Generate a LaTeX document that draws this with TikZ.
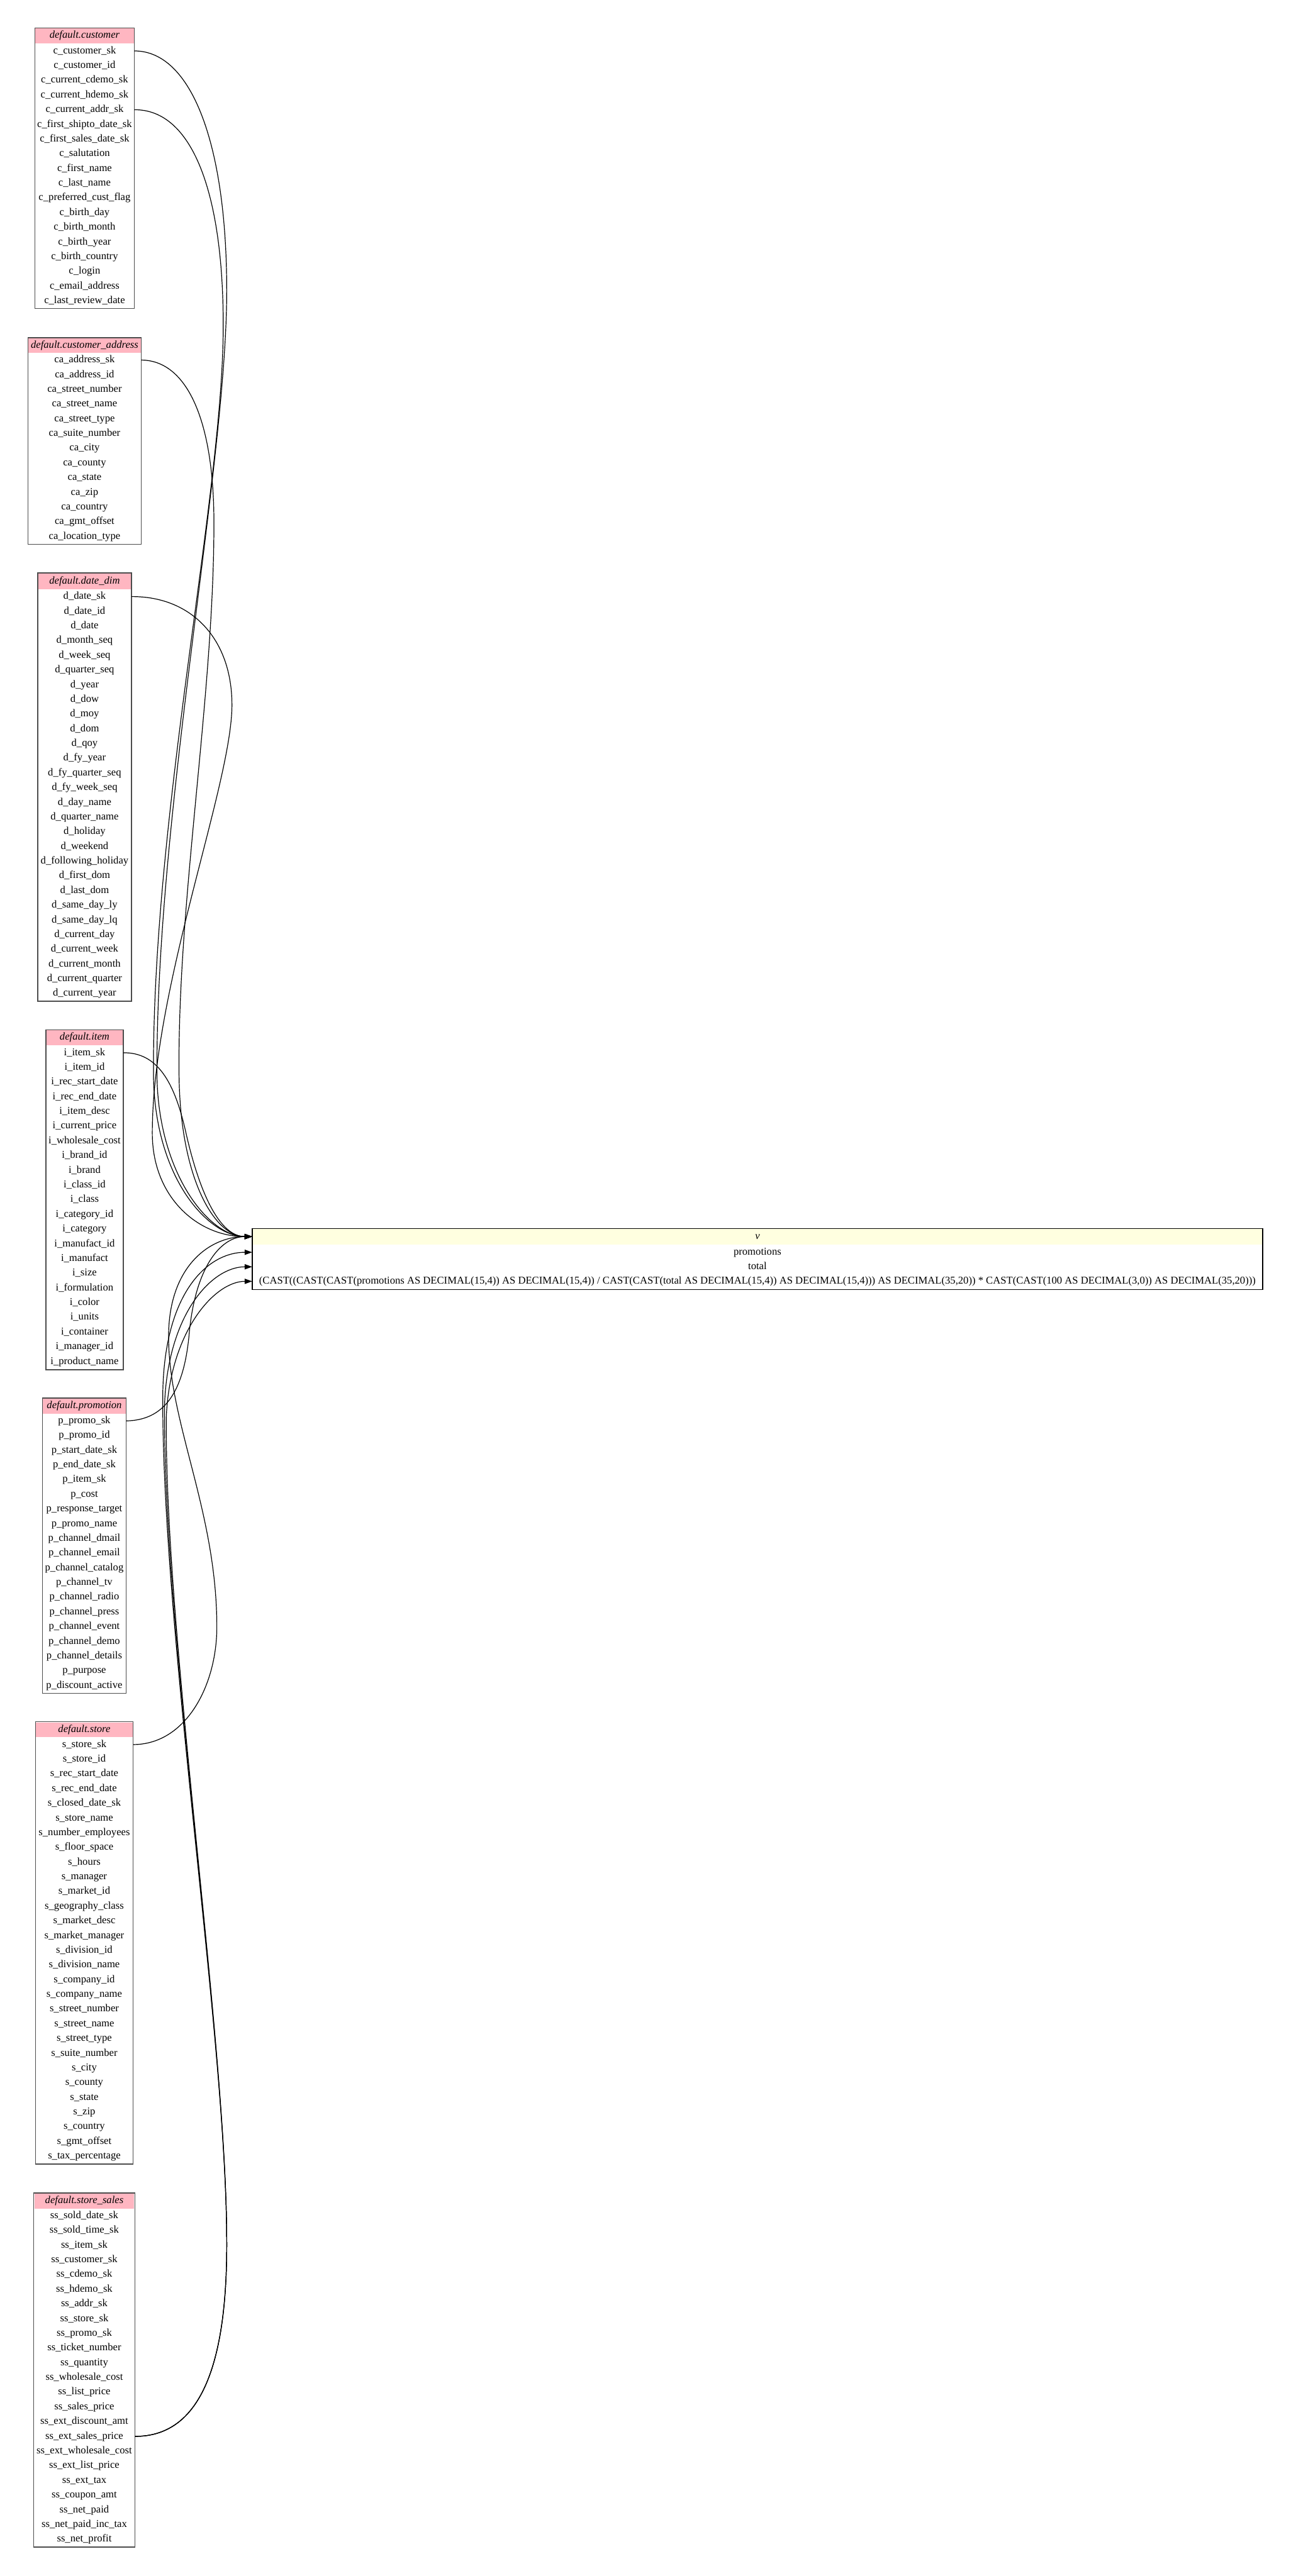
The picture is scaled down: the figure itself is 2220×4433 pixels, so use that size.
\documentclass[tikz,border=0pt]{standalone}
\usepackage{fontspec}
\setmainfont{Liberation Serif}
\usepackage{xcolor}
\usepackage{tikz}
\usetikzlibrary{arrows.meta}

\definecolor{headpink}{HTML}{FFB6C1}
\definecolor{vyellow}{HTML}{FFFFE0}

\tikzset{
  box/.style={draw=black!70, line width=1.5pt},
  head/.style={fill=headpink},
  vhead/.style={fill=vyellow},
  title/.style={inner sep=0pt, text height=13pt, text depth=4pt, font=\fontsize{18}{20}\selectfont\itshape},
  field/.style={inner sep=0pt, text height=13pt, text depth=4pt, font=\fontsize{18}{20}\selectfont},
  link/.style={-{Triangle[length=13pt,width=9pt]}, line width=1.3pt}
}

\begin{document}
\begin{tikzpicture}[x=1pt,y=-1pt]
\useasboundingbox (0,0) rectangle (2220,4433);
%
% default.customer
\fill[head] (61,49) rectangle (230,75);
\node[title, minimum width=171pt] (customer) at (145.5,61.5) {default.customer};
\foreach \c [count=\i] in {c\_customer\_sk, c\_customer\_id, c\_current\_cdemo\_sk,
  c\_current\_hdemo\_sk, c\_current\_addr\_sk, c\_first\_shipto\_date\_sk,
  c\_first\_sales\_date\_sk, c\_salutation, c\_first\_name, c\_last\_name,
  c\_preferred\_cust\_flag, c\_birth\_day, c\_birth\_month, c\_birth\_year,
  c\_birth\_country, c\_login, c\_email\_address, c\_last\_review\_date}
  \node[field, minimum width=171pt] (customer-\i) at (145.5,{75+25.3*\i-12.65}) {\c};
\draw[box] (60,48) rectangle (231,531);
%
% default.customer_address
\fill[head] (49,582) rectangle (242,607);
\node[title, minimum width=195pt] (address) at (145.5,594) {default.customer\_address};
\foreach \c [count=\i] in {ca\_address\_sk, ca\_address\_id, ca\_street\_number,
  ca\_street\_name, ca\_street\_type, ca\_suite\_number, ca\_city, ca\_county,
  ca\_state, ca\_zip, ca\_country, ca\_gmt\_offset, ca\_location\_type}
  \node[field, minimum width=195pt] (address-\i) at (145.5,{607+25.3*\i-12.65}) {\c};
\draw[box] (48,581) rectangle (243,937);
%
% default.date_dim
\fill[head] (66,987) rectangle (225,1014);
\node[title, minimum width=161pt] (date) at (145.5,1000) {default.date\_dim};
\foreach \c [count=\i] in {d\_date\_sk, d\_date\_id, d\_date, d\_month\_seq, d\_week\_seq,
  d\_quarter\_seq, d\_year, d\_dow, d\_moy, d\_dom, d\_qoy, d\_fy\_year,
  d\_fy\_quarter\_seq, d\_fy\_week\_seq, d\_day\_name, d\_quarter\_name, d\_holiday,
  d\_weekend, d\_following\_holiday, d\_first\_dom, d\_last\_dom, d\_same\_day\_ly,
  d\_same\_day\_lq, d\_current\_day, d\_current\_week, d\_current\_month,
  d\_current\_quarter, d\_current\_year}
  \node[field, minimum width=161pt] (date-\i) at (145.5,{1014+25.3*\i-12.65}) {\c};
\draw[box] (65,986) rectangle (226,1723);
%
% default.item
\fill[head] (80,1773) rectangle (211,1799);
\node[title, minimum width=133pt] (item) at (145.5,1785.5) {default.item};
\foreach \c [count=\i] in {i\_item\_sk, i\_item\_id, i\_rec\_start\_date, i\_rec\_end\_date,
  i\_item\_desc, i\_current\_price, i\_wholesale\_cost, i\_brand\_id, i\_brand,
  i\_class\_id, i\_class, i\_category\_id, i\_category, i\_manufact\_id, i\_manufact,
  i\_size, i\_formulation, i\_color, i\_units, i\_container, i\_manager\_id,
  i\_product\_name}
  \node[field, minimum width=133pt] (item-\i) at (145.5,{1799+25.3*\i-12.65}) {\c};
\draw[box] (79,1772) rectangle (212,2357);
%
% default.promotion
\fill[head] (74,2407) rectangle (216,2432.5);
\node[title, minimum width=144pt] (promotion) at (145,2419.5) {default.promotion};
\foreach \c [count=\i] in {p\_promo\_sk, p\_promo\_id, p\_start\_date\_sk, p\_end\_date\_sk,
  p\_item\_sk, p\_cost, p\_response\_target, p\_promo\_name, p\_channel\_dmail,
  p\_channel\_email, p\_channel\_catalog, p\_channel\_tv, p\_channel\_radio,
  p\_channel\_press, p\_channel\_event, p\_channel\_demo, p\_channel\_details,
  p\_purpose, p\_discount\_active}
  \node[field, minimum width=144pt] (promotion-\i) at (145,{2432.5+25.3*\i-12.65}) {\c};
\draw[box] (73,2406) rectangle (217,2914);
%
% default.store
\fill[head] (62,2964) rectangle (228,2989.5);
\node[title, minimum width=168pt] (store) at (145,2976.5) {default.store};
\foreach \c [count=\i] in {s\_store\_sk, s\_store\_id, s\_rec\_start\_date, s\_rec\_end\_date,
  s\_closed\_date\_sk, s\_store\_name, s\_number\_employees, s\_floor\_space, s\_hours,
  s\_manager, s\_market\_id, s\_geography\_class, s\_market\_desc, s\_market\_manager,
  s\_division\_id, s\_division\_name, s\_company\_id, s\_company\_name,
  s\_street\_number, s\_street\_name, s\_street\_type, s\_suite\_number, s\_city,
  s\_county, s\_state, s\_zip, s\_country, s\_gmt\_offset, s\_tax\_percentage}
  \node[field, minimum width=168pt] (store-\i) at (145,{2989.5+25.3*\i-12.65}) {\c};
\draw[box] (61,2963) rectangle (229,3724);
%
% default.store_sales
\fill[head] (59,3775) rectangle (231,3800.5);
\node[title, minimum width=174pt] (sales) at (145,3787.5) {default.store\_sales};
\foreach \c [count=\i] in {ss\_sold\_date\_sk, ss\_sold\_time\_sk, ss\_item\_sk,
  ss\_customer\_sk, ss\_cdemo\_sk, ss\_hdemo\_sk, ss\_addr\_sk, ss\_store\_sk,
  ss\_promo\_sk, ss\_ticket\_number, ss\_quantity, ss\_wholesale\_cost,
  ss\_list\_price, ss\_sales\_price, ss\_ext\_discount\_amt, ss\_ext\_sales\_price,
  ss\_ext\_wholesale\_cost, ss\_ext\_list\_price, ss\_ext\_tax, ss\_coupon\_amt,
  ss\_net\_paid, ss\_net\_paid\_inc\_tax, ss\_net\_profit}
  \node[field, minimum width=174pt] (sales-\i) at (145,{3800.5+25.3*\i-12.65}) {\c};
\draw[box] (58,3774) rectangle (232,4383);
%
% v
\fill[vhead] (435,2115) rectangle (2171,2142);
\node[title, minimum width=1738pt] (v) at (1303,2128) {v};
\node[field, minimum width=1738pt] (v-1) at (1303,2155) {promotions};
\node[field, minimum width=1738pt] (v-2) at (1303,2180) {total};
\node[field, minimum width=1738pt] (v-3) at (1303,2205) {(CAST((CAST(CAST(promotions AS DECIMAL(15,4)) AS DECIMAL(15,4)) / CAST(CAST(total AS DECIMAL(15,4)) AS DECIMAL(15,4))) AS DECIMAL(35,20)) * CAST(CAST(100 AS DECIMAL(3,0)) AS DECIMAL(35,20)))};
\draw[box, draw=black] (434,2114) rectangle (2172,2219);
%
% links
\draw[link] (customer-1.east) .. controls (330,87.5) and (390,250) .. (390,500)
  .. controls (390,800) and (268,1400) .. (270,1850)
  .. controls (272,2020) and (360,2128) .. (v.west);
\draw[link] (customer-5.east) .. controls (330,188) and (384,330) .. (384,560)
  .. controls (384,850) and (262,1400) .. (264,1850)
  .. controls (266,2030) and (360,2128) .. (v.west);
\draw[link] (address-1.east) .. controls (320,620) and (368,720) .. (368,900)
  .. controls (368,1200) and (305,1550) .. (308,1850)
  .. controls (310,2030) and (370,2128) .. (v.west);
\draw[link] (date-1.east) .. controls (330,1026) and (399,1100) .. (399,1213)
  .. controls (399,1350) and (262,1700) .. (262,1950)
  .. controls (262,2060) and (340,2128) .. (v.west);
\draw[link] (item-1.east) .. controls (270,1811) and (300,1860) .. (320,1950)
  .. controls (345,2060) and (380,2128) .. (v.west);
\draw[link] (promotion-1.east) .. controls (280,2444) and (315,2400) .. (325,2300)
  .. controls (335,2180) and (380,2128) .. (v.west);
\draw[link] (store-1.east) .. controls (320,3002) and (373,2900) .. (373,2800)
  .. controls (373,2600) and (290,2450) .. (290,2300)
  .. controls (290,2180) and (360,2128) .. (v.west);
\draw[link] (sales-16.east) .. controls (340,4193) and (392,4080) .. (390,3850)
  .. controls (388,3500) and (278,2800) .. (280,2400)
  .. controls (282,2220) and (360,2155) .. (v-1.west);
\draw[link] (sales-16.east) .. controls (340,4193) and (392,4080) .. (390,3850)
  .. controls (388,3500) and (281,2810) .. (283,2420)
  .. controls (288,2260) and (365,2180) .. (v-2.west);
\draw[link] (sales-16.east) .. controls (340,4193) and (392,4080) .. (390,3850)
  .. controls (388,3500) and (284,2820) .. (286,2440)
  .. controls (292,2290) and (370,2205) .. (v-3.west);
\end{tikzpicture}
\end{document}
